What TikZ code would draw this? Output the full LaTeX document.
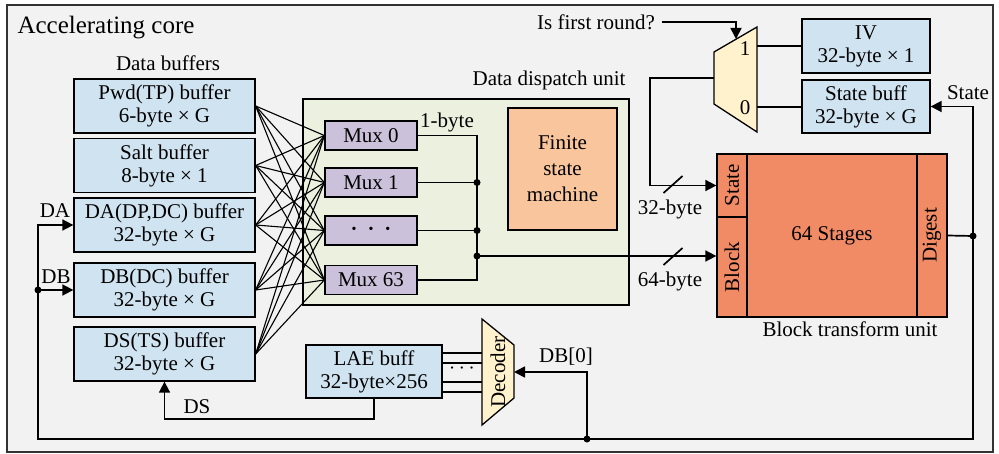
\documentclass[tikz,border=0pt]{standalone}
\usepackage{fontspec}
\setmainfont{Liberation Serif}
\usepackage{xcolor}
\usepackage{tikz}
\usetikzlibrary{arrows.meta}

\definecolor{bggray}{HTML}{F2F2F2}
\definecolor{bufblue}{HTML}{D0E3F0}
\definecolor{dispgreen}{HTML}{EBF1DE}
\definecolor{muxpurple}{HTML}{CCC1DA}
\definecolor{fsmpeach}{HTML}{F9C59C}
\definecolor{btuorange}{HTML}{F08B65}
\definecolor{selyellow}{HTML}{FFF2CC}

\begin{document}
\begin{tikzpicture}[x=0.5pt,y=-0.5pt,
    font=\fontsize{10.5}{11.5}\selectfont,
    box/.style={draw, line width=0.65pt, align=center, inner sep=0pt},
    bufbox/.style={box, fill=bufblue, minimum width=90.5pt, minimum height=27pt},
    muxbox/.style={box, fill=muxpurple, minimum width=46pt, minimum height=14.5pt},
    portbox/.style={box, fill=btuorange, minimum width=15pt},
    wire/.style={line width=0.85pt},
    arr/.style={wire, -{Triangle[length=5.5pt,width=5.5pt]}},
    joint/.style={circle, fill, inner sep=0pt, minimum size=3.5pt}]

        \useasboundingbox (0,0) rectangle (999,454);
        \draw[fill=bggray, draw=black!80, line width=0.7pt] (7,5) rectangle (993,452);
        \node (title) at (106,28) {\fontsize{12.5}{14}\selectfont Accelerating core};

        % Data buffers
        \node (buflabel) at (168,63) {Data buffers};
        \node[bufbox] (pwd)  at (164.5,106)   {Pwd(TP) buffer\\6-byte × G};
        \node[bufbox] (salt) at (164.5,165.5) {Salt buffer\\8-byte × 1};
        \node[bufbox] (da)   at (164.5,225)   {DA(DP,DC) buffer\\32-byte × G};
        \node[bufbox] (db)   at (164.5,290)   {DB(DC) buffer\\32-byte × G};
        \node[bufbox] (ds)   at (164.5,354)   {DS(TS) buffer\\32-byte × G};

        % Data dispatch unit
        \node[box, fill=dispgreen, minimum width=163pt, minimum height=103pt] (disp) at (466,202) {};
        \node (displabel) at (549,80) {Data dispatch unit};
        \node[muxbox] (mux0)  at (371,135.5) {Mux 0};
        \node[muxbox] (mux1)  at (371,182.5) {Mux 1};
        \node[muxbox] (muxd)  at (371,230.5) {{\scriptsize\textbullet}\hspace{6pt}{\scriptsize\textbullet}\hspace{6pt}{\scriptsize\textbullet}};
        \node[muxbox] (mux63) at (371,280)   {Mux 63};
        \node[box, fill=fsmpeach, minimum width=54.5pt, minimum height=61pt,
              font=\fontsize{10.5}{13}\selectfont] (fsm) at (562.5,169) {Finite\\state\\machine};

        % Crossbar between buffers and muxes
        \foreach \b in {pwd,salt,da,db,ds} {
            \foreach \m in {mux0,mux1,muxd,mux63} {
                \draw[line width=0.55pt] (\b.east) -- (\m.west);
            }
        }

        % Mux outputs merged into the 64-byte bus
        \coordinate (bus) at (477,256);
        \draw[wire] (mux0.east) -| (bus |- mux63.east) -- (mux63.east);
        \draw[wire] (mux1.east) -- (bus |- mux1.east) node[joint] {};
        \draw[wire] (muxd.east) -- (bus |- muxd.east) node[joint] {};
        \node[joint] at (bus) {};
        \node (onebyte) at (447,122) {1-byte};

        % Block transform unit
        \node[portbox, minimum height=31.5pt] (statep) at (732,185.5) {\rotatebox{90}{State}};
        \node[portbox, minimum height=50pt] (blockp) at (732,267) {\rotatebox{90}{Block}};
        \node[box, fill=btuorange, minimum width=85pt, minimum height=81.5pt] (stages) at (832,235.5) {64 Stages};
        \node[portbox, minimum height=81.5pt] (digest) at (932,235.5) {\rotatebox{90}{Digest}};
        \node (btulabel) at (850,329) {Block transform unit};

        \draw[arr] (bus) -- (blockp.west |- bus);
        \draw[wire] (673,256) ++(-9.5,9) -- ++(19,-17);
        \node (bytes64) at (670,281) {64-byte};

        % State selector
        \draw[box, fill=selyellow] (714,52) -- (757,27) -- (757,132) -- (714,104) -- cycle;
        \coordinate (selout) at (714,78);
        \coordinate (selin1) at (757,46);
        \coordinate (selin0) at (757,107);
        \coordinate (seltop) at (736,39);
        \node (one)  at (745,49)  {1};
        \node (zero) at (745,108) {0};
        \node (first) at (596,22) {Is first round?};
        \draw[arr] (first.east) -| (seltop);

        \node[bufbox, minimum width=64pt] (iv)   at (866,46)    {IV\\32-byte × 1};
        \node[bufbox, minimum width=64pt, minimum height=26.5pt] (sbuf) at (866,106.5) {State buff\\32-byte × G};
        \draw[wire] (selin1) -- (iv.west);
        \draw[wire] (selin0) -- (selin0 -| sbuf.west);

        \draw[arr] (selout) -- ++(-64,0) |- (statep.west);
        \draw[wire] (673,184) ++(-9.5,9) -- ++(19,-17);
        \node (bytes32) at (670,209) {32-byte};

        % Feedback of the digest
        \coordinate (fb) at (973,236);
        \coordinate (bl) at (38,439);
        \coordinate (dbtap) at (38,290);
        \coordinate (d0tap) at (587,439);
        \draw[wire] (digest.east) -- (fb);
        \draw[arr] (fb) |- (sbuf.east);
        \draw[arr] (fb) |- (bl) |- (da.west);
        \draw[arr] (dbtap) -- (db.west);
        \node[joint] at (fb) {};
        \node[joint] at (dbtap) {};
        \node[joint] at (d0tap) {};
        \node (statelabel) at (968,93) {State};
        \node (dalabel) at (55,211) {DA};
        \node (dblabel) at (56,277) {DB};

        % LAE buffer and decoder
        \node[bufbox, minimum width=68pt, minimum height=26.5pt] (lae) at (374,371.5) {LAE buff\\32-byte×256};
        \draw[box, fill=selyellow] (482,319) -- (514,345) -- (514,398) -- (482,425) -- cycle;
        \node (dec) at (498,372) {\rotatebox{90}{Decoder}};
        \coordinate (decw) at (482,372);
        \coordinate (dece) at (514,372);
        \foreach \y in {353,363,382,392} {
            \draw[line width=0.6pt] (lae.east |- 0,\y) -- (decw |- 0,\y);
        }
        \node (laedots) at (462,369) {$\cdots$};

        \draw[arr] (d0tap) |- (dece);
        \node (db0label) at (566,357) {DB[0]};
        \draw[arr] (lae.south) -- ++(0,20) -| (ds.south);
        \node (dslabel) at (197,407) {DS};
\end{tikzpicture}
\end{document}
